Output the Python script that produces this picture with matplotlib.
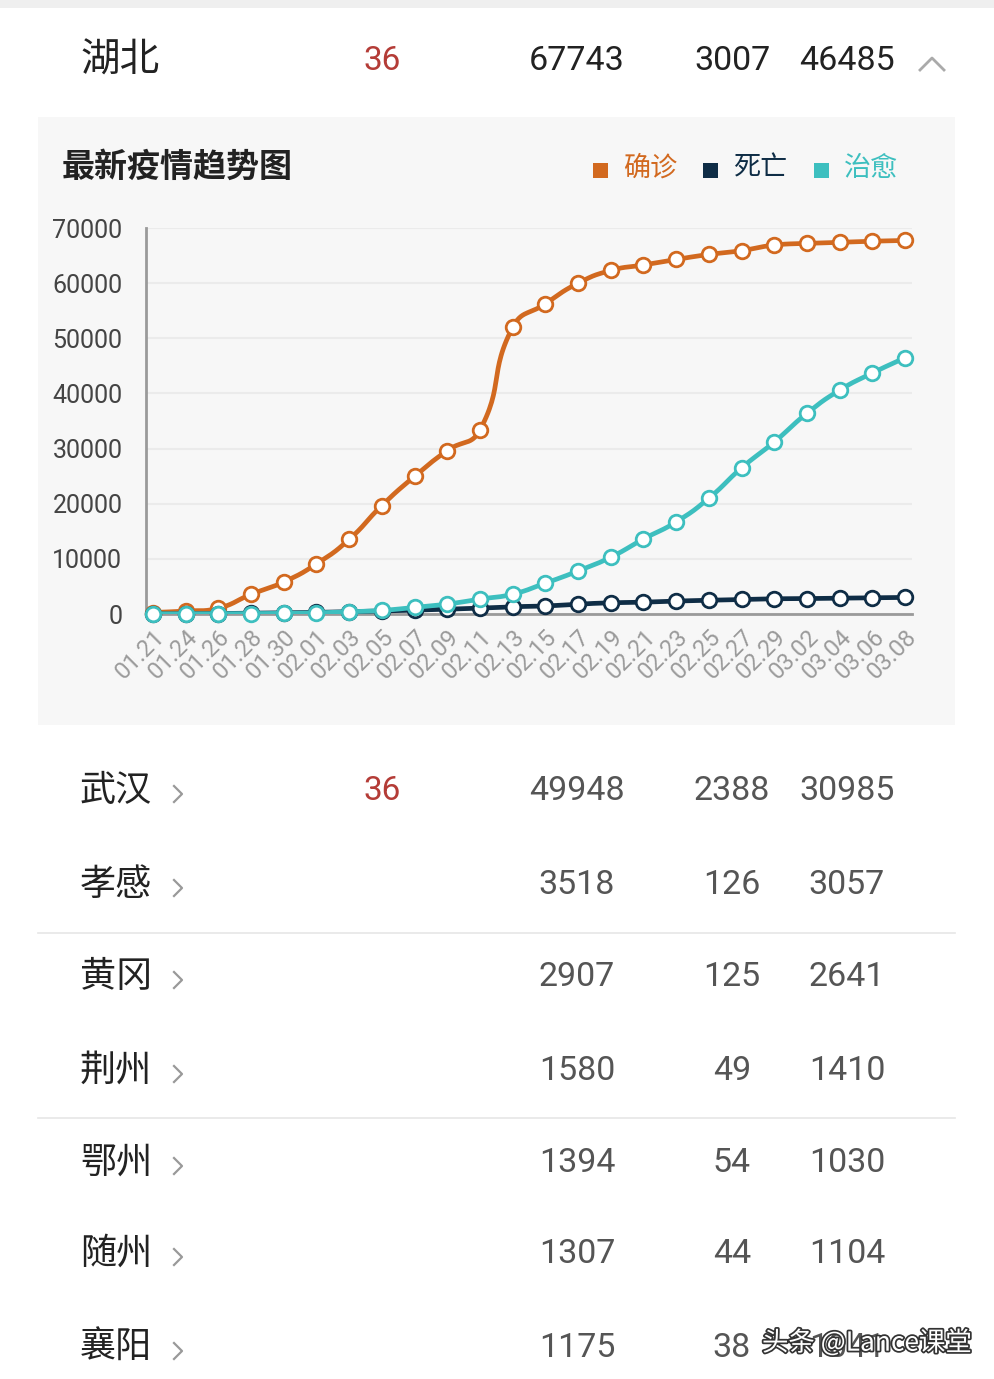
import numpy as np
import matplotlib
matplotlib.use("Agg")
import matplotlib.pyplot as plt
from matplotlib.patches import Rectangle
import matplotlib.patheffects as pe

CJK = ['Noto Sans CJK SC', 'DejaVu Sans']
NUM = ['Roboto', 'DejaVu Sans']

# chart data
dates = ['01.21', '01.24', '01.26', '01.28', '01.30', '02.01', '02.03', '02.05',
         '02.07', '02.09', '02.11', '02.13', '02.15', '02.17', '02.19', '02.21',
         '02.23', '02.25', '02.27', '02.29', '03.02', '03.04', '03.06', '03.08']
confirmed = [270, 549, 1052, 3554, 5806, 9074, 13522, 19665, 24953, 29631, 33366, 51986,
             56249, 59989, 62300, 63300, 64300, 65200, 65900, 66900, 67200, 67400, 67600, 67743]
deaths = [6, 24, 76, 125, 204, 294, 414, 549, 699, 871, 1068, 1318,
          1457, 1789, 2029, 2144, 2346, 2495, 2641, 2761, 2803, 2871, 2931, 3007]
cured = [28, 32, 42, 88, 118, 215, 396, 650, 1200, 1800, 2700, 3600,
         5600, 7800, 10300, 13600, 16700, 21000, 26500, 31200, 36400, 40600, 43700, 46485]
yticks = [0, 10000, 20000, 30000, 40000, 50000, 60000, 70000]

legend_names = ['确诊', '死亡', '治愈']
colors = ['#d2691f', '#0f2d46', '#3dbfbf']

# table data
province = ['湖北', '36', '67743', '3007', '46485']
cities = ['武汉', '孝感', '黄冈', '荆州', '鄂州', '随州', '襄阳']
new_cases = ['36', '', '', '', '', '', '']
city_confirmed = ['49948', '3518', '2907', '1580', '1394', '1307', '1175']
city_deaths = ['2388', '126', '125', '49', '54', '44', '38']
city_cured = ['30985', '3057', '2641', '1410', '1030', '1104', '1041']
row_y = [791, 885, 977, 1071, 1163, 1254, 1348]


def smooth_line(xs, ys, sx, sy, smooth=0.5, n=30):
    # echarts-like bezier smoothing, computed in pixel-ish units
    P = np.column_stack([np.asarray(xs) * sx, np.asarray(ys) * sy])
    cps = []
    for i in range(len(P)):
        prev = P[i - 1] if i > 0 else P[i]
        nxt = P[i + 1] if i < len(P) - 1 else P[i]
        v = (nxt - prev) * smooth
        d0 = np.hypot(*(P[i] - prev))
        d1 = np.hypot(*(P[i] - nxt))
        s = d0 + d1
        if s:
            d0, d1 = d0 / s, d1 / s
        cps.append((P[i] - v * d0, P[i] + v * d1))
    t = np.linspace(0, 1, n)[:, None]
    segs = []
    for i in range(len(P) - 1):
        a, b, c, d = P[i], cps[i][1], cps[i + 1][0], P[i + 1]
        seg = (1 - t) ** 3 * a + 3 * (1 - t) ** 2 * t * b + 3 * (1 - t) * t ** 2 * c + t ** 3 * d
        segs.append(seg)
    out = np.vstack(segs)
    return out[:, 0] / sx, out[:, 1] / sy


fig = plt.figure(figsize=(9.95, 13.79), dpi=100)
fig.patch.set_facecolor('white')

# background layer in pixel coordinates
bg = fig.add_axes([0, 0, 1, 1])
bg.set_xlim(0, 995)
bg.set_ylim(1379, 0)
bg.axis('off')
bg.add_patch(Rectangle((0, 0), 995, 8, color='#efefef', lw=0))
bg.add_patch(Rectangle((38, 117), 917, 608, color='#f7f7f7', lw=0))
for yy in [933, 1118]:
    bg.plot([38, 955], [yy, yy], color='#e6e6e6', lw=1.2)

# header row
bg.text(80, 61, province[0], fontsize=28.5, family=CJK, color='#222222', va='center', ha='left')
bg.text(382, 61, province[1], fontsize=24, family=NUM, color='#b43c37', va='center', ha='center')
for txt, xx in zip(province[2:], [577, 732, 847]):
    bg.text(xx, 61, txt, fontsize=24.5, family=NUM, color='#222222', va='center', ha='center')
bg.plot([920, 932, 944], [70, 58, 70], color='#aaaaaa', lw=2)

# chart title + legend
bg.text(62, 167, '最新疫情趋势图', fontsize=23.8, family=CJK, fontweight='bold',
        color='#222222', va='center', ha='left')
for name, col, xx in zip(legend_names, colors, [593, 703, 814]):
    bg.add_patch(Rectangle((xx, 163), 15, 15, color=col, lw=0))
    bg.text(xx + 30, 168, name, fontsize=19.5, family=CJK, color=col, va='center', ha='left')

# table rows
for i, yy in enumerate(row_y):
    bg.text(80, yy, cities[i], fontsize=26, family=CJK, color='#222222', va='center', ha='left')
    bg.plot([174, 182, 174], [yy - 5, yy + 3, yy + 11], color='#999999', lw=1.6)
    if new_cases[i]:
        bg.text(382, yy, new_cases[i], fontsize=24, family=NUM, color='#b43c37', va='center', ha='center')
    bg.text(577, yy, city_confirmed[i], fontsize=24.5, family=NUM, color='#555555', va='center', ha='center')
    bg.text(732, yy, city_deaths[i], fontsize=24.5, family=NUM, color='#555555', va='center', ha='center')
    bg.text(847, yy, city_cured[i], fontsize=24.5, family=NUM, color='#555555', va='center', ha='center')

# watermark (sits over the last cured value, as in the source screenshot)
bg.text(762, 1343, '头条 @Lance课堂', fontsize=19, family=CJK, color='white', va='center', ha='left',
        path_effects=[pe.withStroke(linewidth=2.5, foreground='#333333')])

# line chart
ax = fig.add_axes([146 / 995, 1 - 614 / 1379, 766 / 995, 386 / 1379])
ax.patch.set_alpha(0)
x = np.arange(len(dates))
ax.set_xlim(-0.21, len(dates) - 1 + 0.21)
ax.set_ylim(0, 70000)

sx, sy = 32.7, 386 / 70000
for vals, col, z in zip([confirmed, deaths, cured], colors, [3, 4, 5]):
    lx, ly = smooth_line(x, vals, sx, sy)
    ax.plot(lx, ly, color=col, lw=3.4, zorder=z, solid_capstyle='round')
    ax.plot(x, vals, 'o', color=col, markerfacecolor='white', markeredgecolor=col,
            markersize=10.5, markeredgewidth=2, zorder=z + 0.5, clip_on=False)

ax.set_yticks(yticks)
ax.set_yticklabels([str(v) for v in yticks], fontsize=18, family=NUM, color='#444444')
ax.set_xticks(x)
ax.set_xticklabels(dates, fontsize=17, family=NUM, color='#9a9a9a', rotation=45,
                   ha='right', va='top', rotation_mode='anchor')
ax.tick_params(axis='y', length=0, pad=17)
ax.tick_params(axis='x', length=0, pad=8)
for lab in ax.get_yticklabels():
    lab.set_y(lab.get_position()[1])
ax.grid(axis='y', color='#ebebeb', lw=1.5)
ax.set_axisbelow(True)
for s in ['top', 'right']:
    ax.spines[s].set_visible(False)
for s in ['left', 'bottom']:
    ax.spines[s].set_color('#9a9a9a')
    ax.spines[s].set_linewidth(2)

fig.savefig('out.png', dpi=100, facecolor=fig.get_facecolor())
